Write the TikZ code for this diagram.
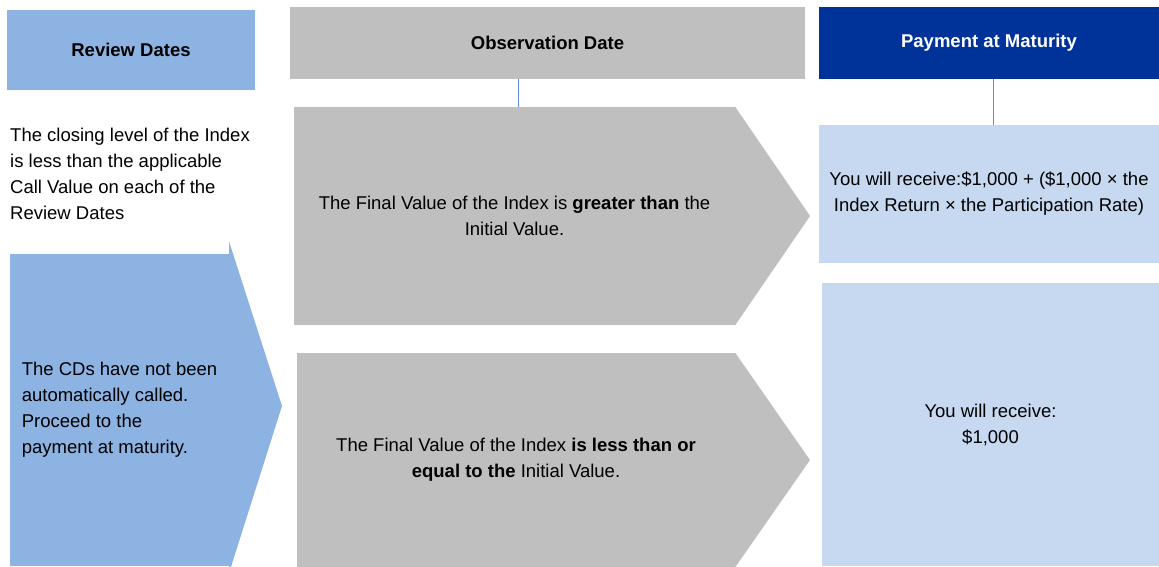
\documentclass[tikz,border=0pt]{standalone}
\usepackage{fontspec}
\setmainfont{Liberation Sans}
\usepackage{tikz}
\usetikzlibrary{positioning,calc}
\usepackage{xcolor}
\definecolor{reviewblue}{RGB}{141,179,226}
\definecolor{obsgray}{RGB}{191,191,191}
\definecolor{paynavy}{RGB}{0,51,153}
\definecolor{paylight}{RGB}{198,217,240}
\definecolor{linkblue}{RGB}{95,140,210}

\begin{document}
\begin{tikzpicture}[
            x=1pt, y=-1pt,
            every node/.style={font=\fontsize{18.5}{26}\selectfont, inner sep=0pt},
            head/.style={rectangle, font=\fontsize{18.5}{26}\selectfont\bfseries, align=center},
            body/.style={rectangle, fill=obsgray, align=center},
            result/.style={rectangle, fill=paylight, align=center},
            link/.style={draw=linkblue, line width=0.8pt}
        ]
            \useasboundingbox (0,0) rectangle (1159,566);

            \node[head, fill=reviewblue, minimum width=248, minimum height=80] (review) at (131,50) {Review Dates};
            \node[head, fill=obsgray, minimum width=515, minimum height=72] (obs) at (547.5,43) {Observation Date};
            \node[head, fill=paynavy, text=white, minimum width=340, minimum height=72] (pay) at (989,43) {Payment at Maturity};

            \node[anchor=west, align=left] (closing) at (10,174) {The closing level of the Index\\is less than the applicable\\Call Value on each of the\\Review Dates};

            \node[rectangle, fill=reviewblue, align=left, minimum width=219, minimum height=312] (notcalled) at (119.5,410) {The CDs have not been\\automatically called.\\Proceed to the\\payment at maturity.};
            \fill[reviewblue] (notcalled.north east) -- ++(0,-12) -- (282,406) -- (230,570) -- (notcalled.south east) -- cycle;

            \node[body, minimum width=441, minimum height=218] (greater) at (514.5,216) {The Final Value of the Index is \textbf{greater than} the\\Initial Value.};
            \fill[obsgray] (greater.north east) -- (810,216) -- (greater.south east) -- cycle;

            \node[body, minimum width=438, minimum height=214] (lessequal) at (516,460) {The Final Value of the Index \textbf{is less than or}\\\textbf{equal to the} Initial Value.};
            \fill[obsgray] (lessequal.north east) -- (810,460) -- (lessequal.south east) -- cycle;

            \node[result, minimum width=340, minimum height=138] (gain) at (989,194) {You will receive:\$1,000 + (\$1,000 × the\\Index Return × the Participation Rate)};
            \node[result, minimum width=337, minimum height=283] (par) at (990.5,424.5) {You will receive:\\\$1,000};

            \draw[link] ([xshift=3.5]greater.north) -- ([xshift=3.5]greater.north |- obs.south);
            \draw[link] ([xshift=4]gain.north) -- ([xshift=4]gain.north |- pay.south);
        \end{tikzpicture}
\end{document}
